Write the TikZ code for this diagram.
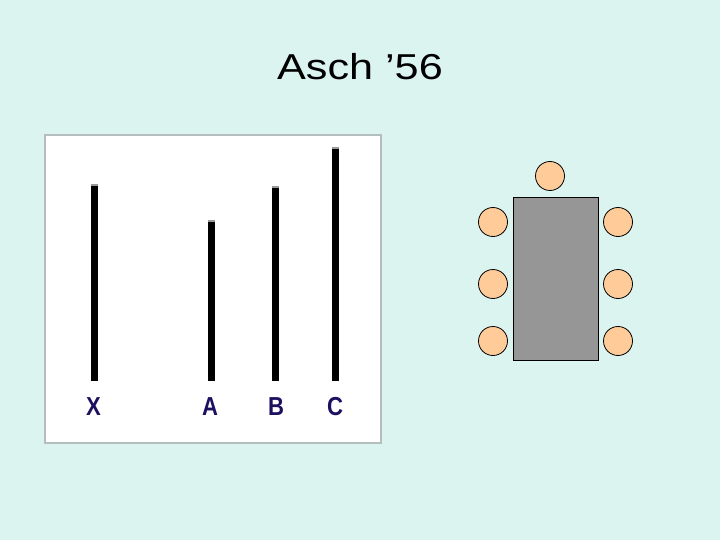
\documentclass[tikz,border=0pt]{standalone}
\usepackage{fontspec}
\setmainfont{Liberation Sans}
\newfontfamily\titlefont[FakeStretch=1.2]{Liberation Sans}
\newfontfamily\labfont[FakeStretch=0.85]{Liberation Sans Bold}
\definecolor{bg}{HTML}{DCF4F0}
\definecolor{peach}{HTML}{FFCC99}
\definecolor{tablegray}{HTML}{969696}
\definecolor{navy}{HTML}{1C1060}
\definecolor{frame}{HTML}{B4BEBE}
\tikzset{
  seat/.style={circle, draw=black, fill=peach, minimum size=29pt, inner sep=0pt, line width=0.8pt},
  bar/.style={line width=7pt, black},
  barcap/.style={line width=7pt, gray!80},
  lab/.style={font=\labfont\fontsize{26}{28}\selectfont, text=navy, inner sep=0pt}
}
\begin{document}
\begin{tikzpicture}[x=1pt,y=-1pt]
\fill[bg] (0,0) rectangle (720,540);
\useasboundingbox (0,0) rectangle (720,540);
\node[font=\titlefont\fontsize{36}{40}\selectfont, inner sep=0pt] (title) at (360,67) {Asch ’56};
% panel
\node[draw=frame, line width=1.2pt, fill=white, minimum width=336pt, minimum height=308pt, inner sep=0pt] (panel) at (213,289) {};
\draw[barcap] (94,184) -- (94,186);
\draw[bar] (94,186) -- (94,381);
\draw[barcap] (211,220) -- (211,222);
\draw[bar] (211,222) -- (211,381);
\draw[barcap] (275,186) -- (275,188);
\draw[bar] (275,188) -- (275,381);
\draw[barcap] (335,147) -- (335,149);
\draw[bar] (335,149) -- (335,381);
\node[lab] (lx) at (93.5,407) {X};
\node[lab] (la) at (210,407) {A};
\node[lab] (lb) at (276,407) {B};
\node[lab] (lc) at (335,407) {C};
% table
\node[draw=black, fill=tablegray, line width=0.8pt, minimum width=85pt, minimum height=163pt, inner sep=0pt] (table) at (555.5,278.5) {};
\node[seat] (s0) at (550,176) {};
\node[seat] (l1) at (493,222) {};
\node[seat] (l2) at (493,284) {};
\node[seat] (l3) at (493,341) {};
\node[seat] (r1) at (618,222) {};
\node[seat] (r2) at (618,284) {};
\node[seat] (r3) at (618,341) {};
\end{tikzpicture}
\end{document}
